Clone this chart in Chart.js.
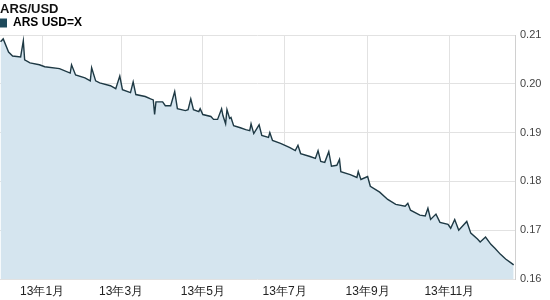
<!DOCTYPE html>
<meta charset="utf-8">
<style>
	body { margin: 0; background: #fff; }
	#wrap { width: 550px; height: 300px; }
</style>
<body>
<script src="https://cdn.jsdelivr.net/npm/chart.js@4/dist/chart.umd.min.js"></script>

<div id="wrap"><canvas id="rateChart"></canvas></div>

<script>
	// day offsets from 2013-01-01 and the ARS/USD rate
	var days = [-31, -29, -25, -22, -16, -14, -13, -9, -2, 2, 13, 21, 22, 25, 32, 36, 37, 40, 43, 51,
		55, 58, 60, 66, 68, 70, 77, 81, 83, 84, 85, 90, 92, 96, 99, 101, 107, 109, 111, 113,
		117, 118, 120, 126, 128, 131, 134, 135, 137, 138, 140, 141, 143, 148, 152, 155, 156, 158, 162, 164,
		169, 170, 172, 178, 185, 189, 191, 193, 200, 204, 206, 208, 211, 214, 216, 220, 222, 223, 230, 235,
		236, 238, 243, 245, 252, 258, 264, 271, 273, 275, 282, 286, 288, 290, 294, 297, 303, 305, 308, 311,
		317, 320, 325, 327, 331, 335, 338, 342, 346, 350, 352];
	var rates = [0.2086, 0.2092, 0.2065, 0.2057, 0.2055, 0.2088, 0.2049, 0.2043, 0.2039, 0.2035, 0.2031, 0.2022, 0.2039, 0.2018, 0.2012, 0.2006, 0.2033, 0.2006, 0.2002, 0.1996,
		0.1990, 0.2016, 0.1988, 0.1982, 0.2004, 0.1978, 0.1974, 0.1969, 0.1967, 0.1937, 0.1963, 0.1963, 0.1955, 0.1955, 0.1984, 0.1949, 0.1945, 0.1947, 0.1969, 0.1947,
		0.1943, 0.1949, 0.1937, 0.1933, 0.1927, 0.1927, 0.1949, 0.1935, 0.1918, 0.1947, 0.1929, 0.1931, 0.1914, 0.1910, 0.1906, 0.1904, 0.1918, 0.1898, 0.1916, 0.1894,
		0.1890, 0.1900, 0.1884, 0.1878, 0.1869, 0.1863, 0.1874, 0.1857, 0.1851, 0.1847, 0.1863, 0.1841, 0.1839, 0.1861, 0.1831, 0.1833, 0.1845, 0.1820, 0.1814, 0.1808,
		0.1820, 0.1804, 0.1810, 0.1790, 0.1778, 0.1763, 0.1753, 0.1749, 0.1755, 0.1741, 0.1731, 0.1729, 0.1745, 0.1722, 0.1733, 0.1716, 0.1712, 0.1704, 0.1722, 0.1700,
		0.1718, 0.1694, 0.1682, 0.1676, 0.1686, 0.1671, 0.1663, 0.1651, 0.1641, 0.1633, 0.1629];

	var monthDays = [0, 59, 120, 181, 243, 304];
	var monthLabels = ["13年1月", "13年3月", "13年5月", "13年7月", "13年9月", "13年11月"];
	var yTicks = [0.16, 0.17, 0.18, 0.19, 0.20, 0.21];

	var points = days.map(function(d, i) { return { x: d, y: rates[i] }; });

	// legend box comes out a few px taller than the original header, trim it
	var trimLegend = {
		id: 'trimLegend',
		beforeLayout: function(chart) {
			var lg = chart.legend;
			if (lg && !lg._trimmed) {
				var f = lg.fit;
				lg.fit = function() { f.call(this); this.height -= 4; };
				lg._trimmed = true;
			}
		}
	};

	var ctx = document.getElementById("rateChart");
	var myChart = new Chart(ctx, {
		type: 'line',
		data: {
			datasets: [{
				label: 'ARS USD=X',
				data: points,
				borderColor: '#1e3944',
				borderWidth: 1.4,
				backgroundColor: '#d5e5ef',
				fill: 'start',
				pointRadius: 0,
				tension: 0
			}]
		},
		plugins: [trimLegend],
		options: {
			responsive: true,
			maintainAspectRatio: false,
			animation: false,
			layout: { padding: 0 },
			plugins: {
				tooltip: { enabled: false },
				title: {
					display: true,
					text: 'ARS/USD',
					align: 'start',
					color: '#111',
					font: { family: 'Liberation Sans, Arial', size: 13, weight: 'bold', lineHeight: 1 },
					padding: { top: 3, bottom: 1 }
				},
				legend: {
					display: true,
					align: 'start',
					labels: {
						boxWidth: 7,
						boxHeight: 9,
						padding: 0,
						color: '#2d4a58',
						font: { family: 'Liberation Sans, Arial', size: 12, weight: 'bold' },
						generateLabels: function(chart) {
							return [{
								text: 'ARS USD=X',
								fillStyle: '#1e4a5c',
								strokeStyle: '#1e4a5c',
								lineWidth: 0,
								datasetIndex: 0
							}];
						}
					}
				}
			},
			scales: {
				x: {
					type: 'linear',
					min: -31.4,
					max: 353,
					afterBuildTicks: function(scale) {
						scale.ticks = monthDays.map(function(d) { return { value: d }; });
					},
					afterFit: function(scale) { scale.height = 21; },
					ticks: {
						autoSkip: false,
						maxRotation: 0,
						padding: 5,
						color: '#222',
						font: { family: 'Liberation Sans, Arial', size: 12 },
						callback: function(value) {
							var i = monthDays.indexOf(value);
							return i >= 0 ? monthLabels[i] : '';
						}
					},
					grid: { color: '#e2e2e2', drawTicks: false },
					border: { display: false }
				},
				y: {
					position: 'right',
					min: 0.16,
					max: 0.21,
					afterBuildTicks: function(scale) {
						scale.ticks = yTicks.map(function(v) { return { value: v }; });
					},
					afterFit: function(scale) { scale.width = 35; },
					ticks: {
						padding: 5,
						color: '#444',
						font: { family: 'Liberation Sans, Arial', size: 11 },
						callback: function(value) { return value.toFixed(2); }
					},
					grid: { color: '#e2e2e2', drawTicks: false },
					border: { display: true, color: '#d0d0d0' }
				}
			}
		}
	});
</script>
</body>
